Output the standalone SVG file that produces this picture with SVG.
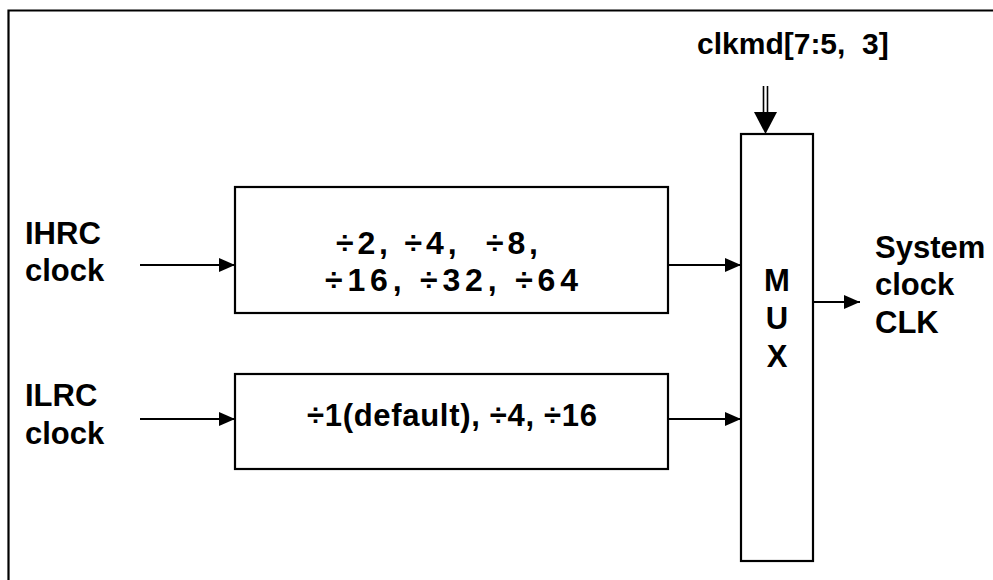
<svg xmlns="http://www.w3.org/2000/svg" width="993" height="580" viewBox="0 0 993 580">
<style>
.box{fill:#fff;stroke:#000;stroke-width:2.2}
.ln{fill:none;stroke:#000;stroke-width:2.2}
.t{font-family:"Liberation Sans",Arial,sans-serif;font-weight:bold;font-size:31px;fill:#000}
.c{text-anchor:middle}
.s{font-size:30px}
.b{font-size:32px}
</style>
<defs>
<marker id="ah" markerUnits="userSpaceOnUse" markerWidth="16" markerHeight="14" refX="16" refY="7" orient="auto">
<path d="M0,0 L16,7 L0,14 Z" fill="#000"/>
</marker>
</defs>
<rect width="993" height="580" fill="#fff"/>
<path class="ln" d="M8.5,590 V10.5 H1000"/>
<g id="connectors">
<line class="ln" x1="140" y1="265" x2="235" y2="265" marker-end="url(#ah)"/>
<line class="ln" x1="140" y1="419" x2="235" y2="419" marker-end="url(#ah)"/>
<line class="ln" x1="668" y1="265" x2="741" y2="265" marker-end="url(#ah)"/>
<line class="ln" x1="668" y1="419" x2="741" y2="419" marker-end="url(#ah)"/>
<line class="ln" x1="813" y1="302" x2="860" y2="302" marker-end="url(#ah)"/>
<line x1="763.5" y1="86" x2="763.5" y2="114" stroke="#000" stroke-width="1.6"/>
<line x1="767.5" y1="86" x2="767.5" y2="114" stroke="#000" stroke-width="1.6"/>
<path d="M754,112 L777,112 L765.5,134 Z" fill="#000"/>
</g>
<g id="ihrc"><text class="t" x="25" y="244">IHRC</text><text class="t" x="25" y="281">clock</text></g>
<g id="ilrc"><text class="t" x="25" y="406">ILRC</text><text class="t" x="25" y="444">clock</text></g>
<g id="div1">
<rect class="box" x="235" y="187" width="433" height="126"/>
<text class="t b" x="336" y="254" textLength="202" lengthAdjust="spacing" xml:space="preserve">÷2, ÷4,  ÷8,</text>
<text class="t b" x="325" y="291" textLength="253" lengthAdjust="spacing">÷16, ÷32, ÷64</text>
</g>
<g id="div2">
<rect class="box" x="235" y="374" width="433" height="95"/>
<text class="t" x="307" y="426" textLength="290" lengthAdjust="spacing">÷1(default), ÷4, ÷16</text>
</g>
<g id="mux">
<rect class="box" x="741" y="134" width="72" height="427"/>
<text class="t c" x="777" y="291">M</text>
<text class="t c" x="777" y="329">U</text>
<text class="t c" x="777" y="367">X</text>
</g>
<g id="clkmd"><text class="t s" x="697" y="54" xml:space="preserve">clkmd[7:5,  3]</text></g>
<g id="sysclk">
<text class="t" x="875" y="258">System</text>
<text class="t" x="875" y="295">clock</text>
<text class="t" x="875" y="333">CLK</text>
</g>
</svg>
